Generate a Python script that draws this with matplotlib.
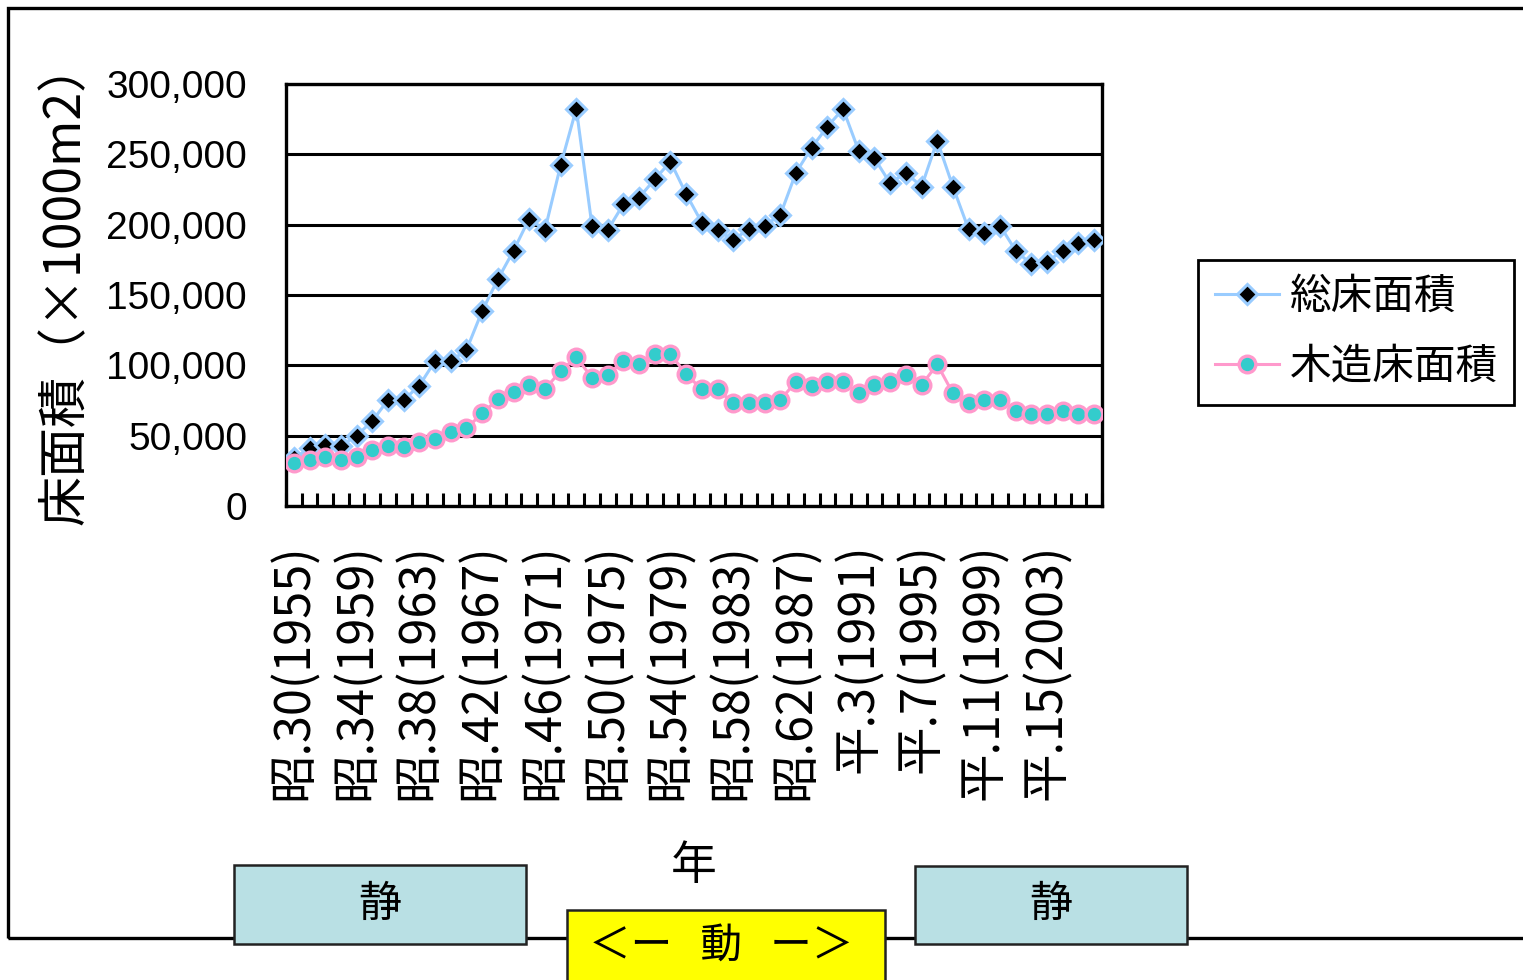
import matplotlib
matplotlib.use("Agg")
import matplotlib.pyplot as plt
from matplotlib.patches import Rectangle
from matplotlib.ticker import FuncFormatter, FixedLocator
from matplotlib.lines import Line2D

plt.rcParams["font.family"] = ["Noto Sans CJK JP", "DejaVu Sans"]

# 1955..2006, one category per year
years = list(range(1955, 2007))

total_area = [
    34000, 41000, 43400, 42900, 50000, 60400, 75400, 75400, 85600, 103100,
    103100, 110900, 138600, 161200, 181500, 204300, 196200, 242200, 282500, 199100,
    196200, 214500, 219200, 232300, 244800, 221800, 201400, 196200, 189100, 197000,
    199300, 206900, 237000, 254800, 269700, 282300, 252400, 247200, 229400, 237000,
    227000, 259700, 227000, 196700, 194300, 199300, 181500, 171800, 173700, 181500,
    186800, 189100,
]
wood_area = [
    30300, 32700, 35100, 32700, 35100, 39800, 42900, 42200, 45300, 47600,
    52900, 55200, 65900, 75800, 80800, 86000, 83000, 96000, 105700, 91200,
    93100, 103100, 100700, 108100, 108100, 93600, 83000, 83000, 73000, 73000,
    73000, 75400, 88400, 85600, 87900, 87900, 80100, 86000, 87900, 93100,
    86000, 100700, 80100, 73000, 75400, 75400, 67500, 65200, 65200, 67500,
    65200, 65200,
]

label_years = [1955, 1959, 1963, 1967, 1971, 1975, 1979, 1983, 1987, 1991, 1995, 1999, 2003]
tick_labels = [
    "昭.30(1955)", "昭.34(1959)", "昭.38(1963)", "昭.42(1967)", "昭.46(1971)",
    "昭.50(1975)", "昭.54(1979)", "昭.58(1983)", "昭.62(1987)", "平.3(1991)",
    "平.7(1995)", "平.11(1999)", "平.15(2003)",
]
series_names = ["総床面積", "木造床面積"]

LINE_BLUE = "#99ccff"
LINE_PINK = "#ff99cc"
TURQUOISE = "#33cccc"
BOX_BLUE = "#b9e0e4"

W, H = 1523, 980
fig = plt.figure(figsize=(W / 100, H / 100), dpi=100)


def fx(px):
    return px / W


def fy(py):
    return 1 - py / H


ax = fig.add_axes([fx(286), fy(506), fx(1102) - fx(286), fy(84) - fy(506)])

total_style = dict(color=LINE_BLUE, lw=2.2, marker="D", ms=10, mfc="black", mec=LINE_BLUE, mew=2.2)
wood_style = dict(color=LINE_PINK, lw=2.2, marker="o", ms=12, mfc=TURQUOISE, mec=LINE_PINK, mew=2.4)

xs = [i + 0.5 for i in range(len(years))]
ax.plot(xs, total_area, zorder=3, **total_style)
ax.plot(xs, wood_area, zorder=4, **wood_style)

ax.set_xlim(0, len(years))
ax.set_ylim(0, 300000)
ax.set_yticks(range(0, 300001, 50000))
ax.yaxis.set_major_formatter(FuncFormatter(lambda v, _: f"{v:,.0f}"))
ax.grid(axis="y", color="black", lw=2.2)
ax.set_axisbelow(True)
for sp in ax.spines.values():
    sp.set_linewidth(2.4)

# boundary ticks between years, labels every four years
ax.xaxis.set_major_locator(FixedLocator(range(len(years) + 1)))
ax.xaxis.set_major_formatter(FuncFormatter(lambda v, _: ""))
ax.tick_params(axis="x", which="major", direction="in", length=9.5, width=2.2)
label_pos = [years.index(y) + 0.5 for y in label_years]
ax.set_xticks(label_pos, tick_labels, minor=True)
ax.tick_params(axis="x", which="minor", length=0, pad=27, labelsize=35, labelrotation=90)

ax.tick_params(axis="y", length=0, pad=28)
for t in ax.get_yticklabels():
    t.set_fontfamily("Liberation Sans")
    t.set_fontsize(28)

handles = [Line2D([], [], **total_style), Line2D([], [], **wood_style)]
leg = ax.legend(handles, series_names, loc="upper left", bbox_to_anchor=(fx(1198), fy(260)),
                bbox_transform=fig.transFigure, fontsize=30, frameon=True, fancybox=False,
                edgecolor="black", framealpha=1, borderaxespad=0, handlelength=1.55,
                handletextpad=0.25, labelspacing=0.7, borderpad=0.4)
leg.get_frame().set_linewidth(2)

fig.text(fx(66), fy(282), "床面積（×1000m2）", rotation=90, ha="center", va="center", fontsize=36)
fig.text(fx(694), fy(866), "年", ha="center", va="center", fontsize=33)

# outer frame and the 静 / 動 bands underneath
fig.patches.append(Rectangle((fx(8), fy(938)), 1.1, fy(8) - fy(938), transform=fig.transFigure,
                             fill=False, ec="black", lw=2.4, zorder=0))
for x0, x1, y0, y1 in [(234, 526, 865, 944), (915, 1187, 866, 944)]:
    fig.patches.append(Rectangle((fx(x0), fy(y1)), fx(x1) - fx(x0), fy(y0) - fy(y1),
                                 transform=fig.transFigure, fc=BOX_BLUE, ec="#222222",
                                 lw=1.8, zorder=2))
    fig.text(fx((x0 + x1) / 2), fy((y0 + y1) / 2), "静", ha="center", va="center",
             fontsize=31, zorder=3)
fig.patches.append(Rectangle((fx(567), fy(990)), fx(885) - fx(567), fy(910) - fy(990),
                             transform=fig.transFigure, fc="#ffff00", ec="#222222",
                             lw=1.8, zorder=2))
fig.text(fx(721), fy(946), "＜ー   動   ー＞", ha="center", va="center", fontsize=30, zorder=3)

fig.savefig("out.png", dpi=100)
